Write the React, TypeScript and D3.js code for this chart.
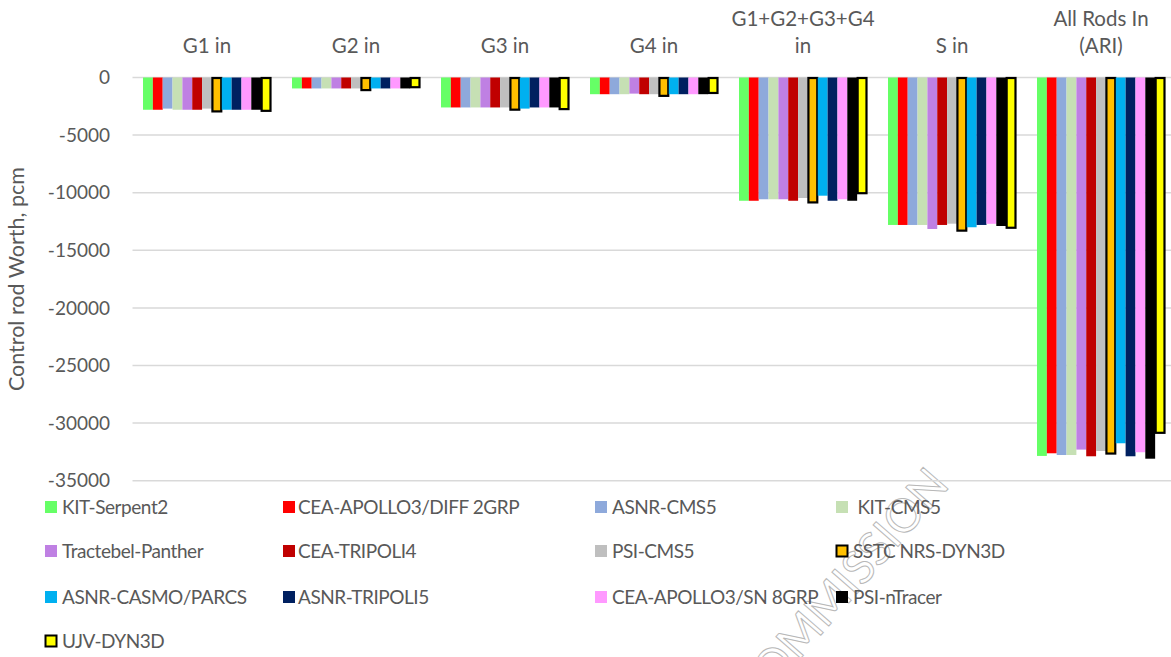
import React from "react";
import * as d3 from "d3";

const categories = ["G1 in", "G2 in", "G3 in", "G4 in", "G1+G2+G3+G4\nin", "S in", "All Rods In\n(ARI)"];

const seriesNames = [
  "KIT-Serpent2", "CEA-APOLLO3/DIFF 2GRP", "ASNR-CMS5", " KIT-CMS5",
  "Tractebel-Panther", "CEA-TRIPOLI4", "PSI-CMS5", "SSTC NRS-DYN3D",
  "ASNR-CASMO/PARCS", "ASNR-TRIPOLI5", "CEA-APOLLO3/SN 8GRP", "PSI-nTracer",
  "UJV-DYN3D",
];

const seriesColors = [
  "#66FF66", "#FF0000", "#8EA9DB", "#C6E0B4",
  "#BF80E3", "#C00000", "#BFBFBF", "#FFC000",
  "#00B0F0", "#002060", "#FF99FF", "#000000",
  "#FFFF00",
];

const outlined = [false, false, false, false, false, false, false, true, false, false, false, false, true];

// values per series, in category order
const kitSerpent2 = [-2800, -950, -2600, -1450, -10700, -12800, -32850];
const ceaApollo3Diff = [-2800, -950, -2600, -1450, -10700, -12800, -32620];
const asnrCms5 = [-2700, -950, -2600, -1450, -10570, -12800, -32770];
const kitCms5 = [-2800, -950, -2600, -1450, -10570, -12800, -32770];
const tractebelPanther = [-2800, -950, -2600, -1400, -10570, -13150, -32300];
const ceaTripoli4 = [-2800, -950, -2600, -1450, -10700, -12800, -32880];
const psiCms5 = [-2700, -950, -2600, -1450, -10460, -12690, -32420];
const sstcDyn3d = [-2900, -1050, -2750, -1550, -10800, -13250, -32600];
const asnrCasmo = [-2800, -950, -2700, -1450, -10260, -13000, -31750];
const asnrTripoli5 = [-2800, -950, -2600, -1450, -10700, -12800, -32880];
const ceaApollo3Sn = [-2800, -950, -2600, -1450, -10570, -12700, -32530];
const psiNtracer = [-2800, -950, -2600, -1450, -10700, -12890, -33090];
const ujvDyn3d = [-2850, -800, -2700, -1300, -10000, -13000, -30800];

const seriesValues = [
  kitSerpent2, ceaApollo3Diff, asnrCms5, kitCms5, tractebelPanther, ceaTripoli4,
  psiCms5, sstcDyn3d, asnrCasmo, asnrTripoli5, ceaApollo3Sn, psiNtracer, ujvDyn3d,
];

const yTicks = [0, -5000, -10000, -15000, -20000, -25000, -30000, -35000];

const W = 1171;
const H = 657;
const FONT = "Lato, 'Open Sans', sans-serif";
const TXT = "#595959";

export default function App() {
  const left = 132.5;
  const step = 149;
  const x = d3
    .scaleBand<string>()
    .domain(categories)
    .range([left, left + step * categories.length])
    .paddingInner(0.141)
    .paddingOuter(0.0705);
  const xs = d3
    .scaleBand<string>()
    .domain(seriesNames)
    .range([0, x.bandwidth()])
    .padding(0);
  const y = d3.scaleLinear().domain([0, -35000]).range([77.5, 480.7]);

  const legendCols = [45, 283, 595, 836];
  const legendTextX = [62, 298, 612, 853];
  const legendRows = [507, 551, 597, 641];

  return (
    <svg
      width={W}
      height={H}
      style={{ position: "fixed", left: 0, top: 0, background: "#fff" }}
      fontFamily={FONT}
    >
      <rect x={0} y={0} width={W} height={H} fill="#fff" />
      {/* watermark */}
      <text
        transform="translate(754,712) rotate(-49)"
        fontSize={46}
        fill="none"
        stroke="#B8B8B8"
        strokeWidth={1}
        fontFamily={FONT}
      >
        COMMISSION
      </text>
      {/* gridlines */}
      {yTicks.map((t) => (
        <line
          key={t}
          x1={left}
          x2={W}
          y1={y(t)}
          y2={y(t)}
          stroke="#D9D9D9"
          strokeWidth={1.5}
        />
      ))}
      {/* y tick labels */}
      {yTicks.map((t) => (
        <text
          key={"t" + t}
          x={110}
          y={y(t)}
          dy="0.35em"
          textAnchor="end"
          fontSize={19}
          fill={TXT}
        >
          {t}
        </text>
      ))}
      {/* y title */}
      <text
        transform={`translate(24,${(y(0) + y(-35000)) / 2}) rotate(-90)`}
        textAnchor="middle"
        fontSize={21.5}
        fill={TXT}
      >
        Control rod Worth, pcm
      </text>
      {/* category labels */}
      {categories.map((c) => {
        const lines = c.split("\n");
        const cx = (x(c) as number) + x.bandwidth() / 2;
        return (
          <text key={c} textAnchor="middle" fontSize={20.5} fill={TXT}>
            {lines.map((ln, i) => (
              <tspan key={i} x={cx} y={53 - (lines.length - 1 - i) * 27}>
                {ln}
              </tspan>
            ))}
          </text>
        );
      })}
      {/* bars */}
      {seriesNames.map((s, si) => (
        <g key={s}>
          {categories.map((c, ci) => {
            const v = seriesValues[si][ci];
            const bx = (x(c) as number) + (xs(s) as number);
            const y0 = y(0);
            const y1 = y(v);
            if (outlined[si]) {
              return (
                <rect
                  key={c}
                  x={bx + 0.5}
                  y={y0 + 0.5}
                  width={xs.bandwidth() - 1}
                  height={y1 - y0}
                  fill={seriesColors[si]}
                  stroke="#000"
                  strokeWidth={2.2}
                />
              );
            }
            return (
              <rect
                key={c}
                x={bx}
                y={y0}
                width={xs.bandwidth()}
                height={y1 - y0}
                fill={seriesColors[si]}
              />
            );
          })}
        </g>
      ))}
      {/* legend */}
      {seriesNames.map((s, i) => {
        const col = i % 4;
        const row = Math.floor(i / 4);
        const mx = legendCols[col];
        const my = legendRows[row];
        return (
          <g key={"lg" + s}>
            <rect
              x={outlined[i] ? mx + 0.5 : mx}
              y={outlined[i] ? my - 5.5 : my - 6}
              width={outlined[i] ? 11 : 12}
              height={outlined[i] ? 11 : 12}
              fill={seriesColors[i]}
              stroke={outlined[i] ? "#000" : "none"}
              strokeWidth={2}
            />
            <text
              x={legendTextX[col]}
              y={my}
              dy="0.35em"
              fontSize={19}
              letterSpacing={-0.45}
              fill={TXT}
              style={{ whiteSpace: "pre" }}
            >
              {s}
            </text>
          </g>
        );
      })}
    </svg>
  );
}
